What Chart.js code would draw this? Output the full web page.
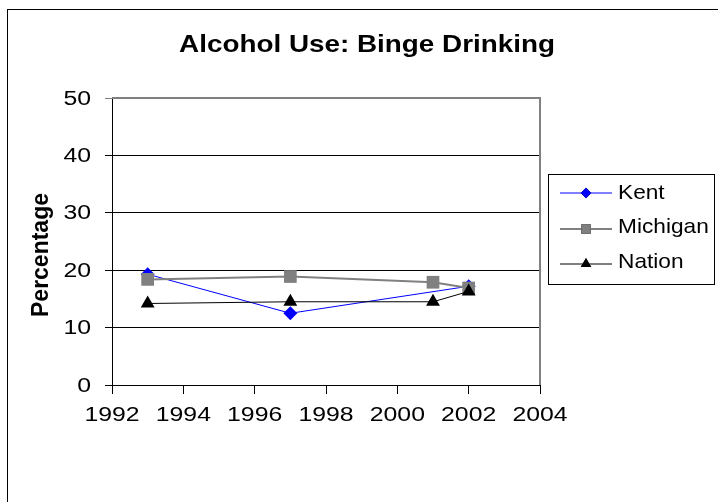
<!DOCTYPE html>
<html>
<head>
<meta charset="utf-8">
<script src="https://cdn.jsdelivr.net/npm/chart.js@4/dist/chart.umd.min.js"></script>
<style>
  html, body { margin:0; padding:0; background:#fff; }
  #wrap { width:718px; height:502px; }
</style>
</head>
<body>
<div id="wrap"><canvas id="binge" width="718" height="502"></canvas></div>
<script>
const years    = [1993, 1997, 2001, 2002];
const kent     = [19.3, 12.5, null, 17.2];
const michigan = [18.4, 18.9, 17.9, 16.9];
const nation   = [14.2, 14.5, 14.5, 16.3];
const yTicks   = [0, 10, 20, 30, 40, 50];
const xTicks   = [1992, 1994, 1996, 1998, 2000, 2002, 2004];

const FONT = "'Liberation Sans', Arial, sans-serif";
const TICK_FONT = '20px ' + FONT;
const TICK_STRETCH = 1.24;

const pts = vals => years.map((yr, i) => ({x: yr, y: vals[i]})).filter(p => p.y !== null);

// order: Kent underneath, Nation on top
const series = [
  {label:'Kent',     data: pts(kent),     order:3, borderColor:'#0000ff', backgroundColor:'#0000ff', borderWidth:1, pointStyle:'rectRot',  pointRadius:7},
  {label:'Michigan', data: pts(michigan), order:2, borderColor:'#808080', backgroundColor:'#808080', borderWidth:2, pointStyle:'rect',     pointRadius:9},
  {label:'Nation',   data: pts(nation),   order:1, borderColor:'#000000', backgroundColor:'#000000', borderWidth:1, pointStyle:'triangle', pointRadius:8}
];

// text with a horizontal stretch factor (the labels here are wide)
function wideText(c, txt, x, y, font, sx, align) {
  c.save();
  c.font = font;
  c.textBaseline = 'middle';
  c.textAlign = 'left';
  const w = c.measureText(txt).width * sx;
  let x0 = x;
  if (align === 'center') x0 = x - w / 2;
  else if (align === 'right') x0 = x - w;
  c.translate(x0, y);
  c.scale(sx, 1);
  c.fillText(txt, 0, 0);
  c.restore();
}

// frame, titles, tick labels, plot box and legend drawn onto the canvas
const decor = {
  id:'decor',
  beforeDraw(chart) {
    const c = chart.ctx;
    c.save();
    c.fillStyle = '#fff';
    c.fillRect(0, 0, chart.width, chart.height);
    c.strokeStyle = '#000';
    c.lineWidth = 1;
    c.strokeRect(7.5, 9.5, 740, 520);
    c.restore();
  },
  afterDraw(chart) {
    const c = chart.ctx, a = chart.chartArea;
    const xs = chart.scales.x, ys = chart.scales.y;
    c.save();
    // plot box top / right edges in gray
    c.strokeStyle = '#808080';
    c.lineWidth = 2;
    c.beginPath();
    c.moveTo(a.left, a.top);
    c.lineTo(a.right, a.top);
    c.lineTo(a.right, a.bottom);
    c.stroke();

    c.fillStyle = '#000';
    yTicks.forEach(v => wideText(c, String(v), 91, ys.getPixelForValue(v) + 1, TICK_FONT, TICK_STRETCH, 'right'));
    xTicks.forEach(v => wideText(c, String(v), xs.getPixelForValue(v), 415, TICK_FONT, TICK_STRETCH, 'center'));

    wideText(c, 'Alcohol Use: Binge Drinking', 367, 45, 'bold 24px ' + FONT, 1.16, 'center');

    c.save();
    c.translate(42, 255);
    c.rotate(-Math.PI / 2);
    c.font = 'bold 23px ' + FONT;
    c.textAlign = 'center';
    c.textBaseline = 'middle';
    c.fillText('Percentage', 0, 0);
    c.restore();

    // legend
    c.strokeStyle = '#000';
    c.lineWidth = 1;
    c.strokeRect(548.5, 174.5, 166, 110);
    const lineY = [193, 229, 264];
    const textY = [192, 226, 261];
    chart.data.datasets.forEach((ds, i) => {
      const y = lineY[i];
      c.strokeStyle = ds.borderColor;
      c.lineWidth = ds.borderWidth;
      c.beginPath();
      c.moveTo(560, y);
      c.lineTo(612, y);
      c.stroke();
      Chart.helpers.drawPoint(c, {pointStyle: ds.pointStyle, radius: ds.pointRadius * 0.75, borderWidth: 0}, 586, y);
      c.fillStyle = ds.backgroundColor;
      c.fill();
      c.fillStyle = '#000';
      wideText(c, ds.label, 618, textY[i] + 1, '21px ' + FONT, 1.08, 'left');
    });
    c.restore();
  }
};

new Chart(document.getElementById('binge'), {
  type:'line',
  data:{ datasets: series.map(s => Object.assign({
    pointBorderWidth:0, pointBackgroundColor:s.backgroundColor, fill:false, tension:0
  }, s)) },
  options:{
    responsive:false, animation:false, devicePixelRatio:1,
    layout:{ padding:{ left:0, right:178, top:98, bottom:0 } },
    plugins:{ legend:{display:false}, title:{display:false}, tooltip:{enabled:false} },
    scales:{
      x:{
        type:'linear', min:1992, max:2004,
        afterBuildTicks: s => { s.ticks = xTicks.map(v => ({value:v})); },
        afterFit: s => { s.height = 117; },
        grid:{ drawOnChartArea:false, drawTicks:true, tickLength:9, color:'#000' },
        border:{ color:'#000', width:1 },
        ticks:{ color:'rgba(0,0,0,0)', font:{family:FONT, size:20}, padding:4, maxRotation:0, autoSkip:false }
      },
      y:{
        min:0, max:50,
        afterBuildTicks: s => { s.ticks = yTicks.map(v => ({value:v})); },
        afterFit: s => { s.width = 112; },
        grid:{ color: ctx => ctx.tick && ctx.tick.value === 50 ? '#808080' : '#000', tickLength:7, lineWidth:1 },
        border:{ color:'#000', width:1 },
        ticks:{ color:'rgba(0,0,0,0)', font:{family:FONT, size:20}, padding:14 }
      }
    }
  },
  plugins:[decor]
});
</script>
</body>
</html>
